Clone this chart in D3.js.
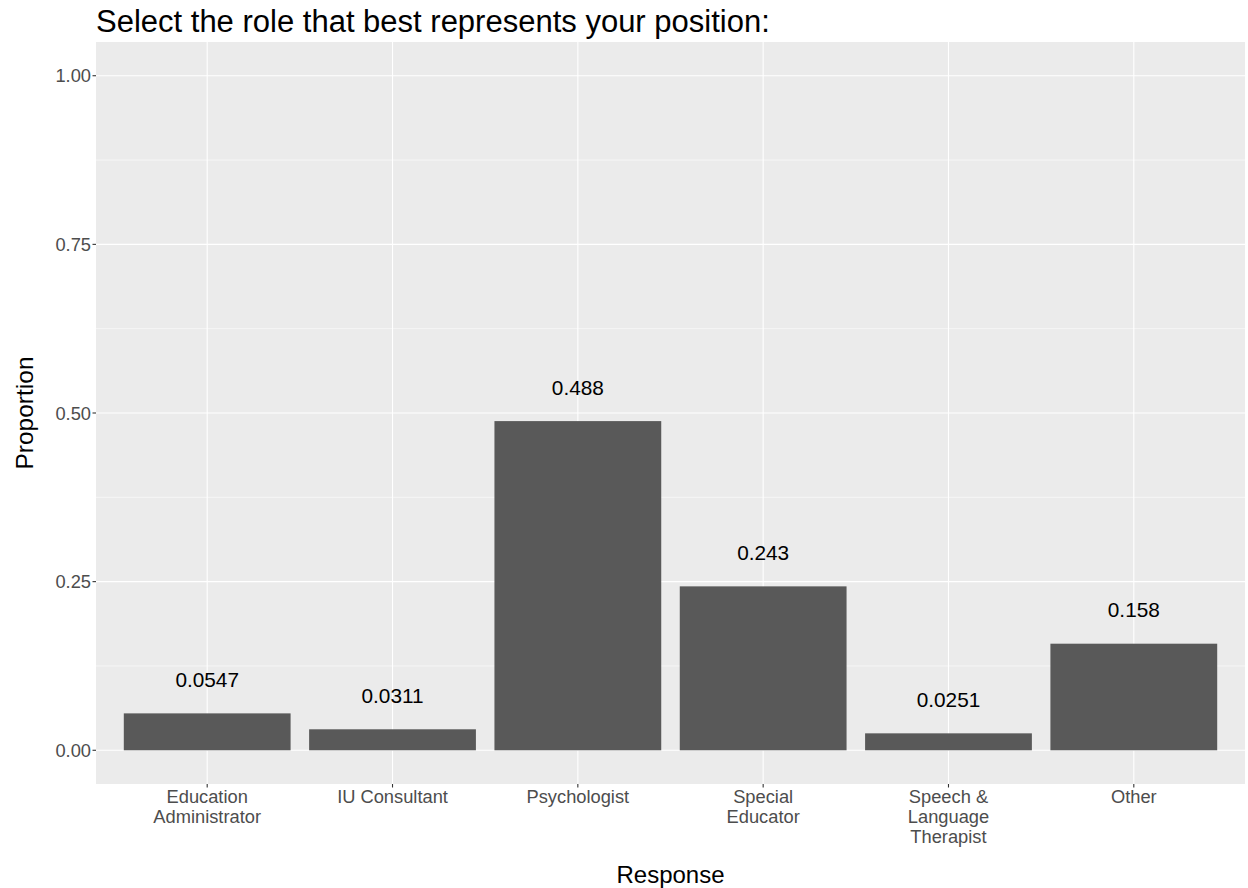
<!DOCTYPE html>
<html><head><meta charset="utf-8">
<script src="https://cdn.jsdelivr.net/npm/d3@7"></script>
<style>
body{margin:0;background:#fff;}
text{font-family:"Liberation Sans",Arial,sans-serif;}
</style></head>
<body>
<svg id="chart" width="1248" height="888"></svg>
<script>
const categories = ["Education\nAdministrator","IU Consultant","Psychologist","Special\nEducator","Speech &\nLanguage\nTherapist","Other"];
const values = [0.0547, 0.0311, 0.488, 0.243, 0.0251, 0.158];
const valueLabels = ["0.0547","0.0311","0.488","0.243","0.0251","0.158"];
const yTicks = [0, 0.25, 0.5, 0.75, 1.0];
const yMinor = [0.125, 0.375, 0.625, 0.875];
const title = "Select the role that best represents your position:";
const xTitle = "Response";
const yTitle = "Proportion";

const svg = d3.select("#chart");
const L = 96, R = 1245, T = 42, B = 784;

const y = d3.scaleLinear().domain([-0.05, 1.05]).range([B, T]);
const step = (R - L) / (categories.length - 1 + 1.2);
const x = d3.scalePoint().domain(d3.range(categories.length)).range([L + 0.6 * step, R - 0.6 * step]);
const cx = i => x(i);

svg.append("rect").attr("x", L).attr("y", T).attr("width", R - L).attr("height", B - T).attr("fill", "#EBEBEB");

const g = svg.append("g");
g.selectAll(".minor").data(yMinor).join("line")
  .attr("x1", L).attr("x2", R).attr("y1", d => y(d)).attr("y2", d => y(d))
  .attr("stroke", "#fff").attr("stroke-width", 0.55);
g.selectAll(".major").data(yTicks).join("line")
  .attr("x1", L).attr("x2", R).attr("y1", d => y(d)).attr("y2", d => y(d))
  .attr("stroke", "#fff").attr("stroke-width", 1.1);
g.selectAll(".vmajor").data(categories).join("line")
  .attr("x1", (d, i) => cx(i)).attr("x2", (d, i) => cx(i)).attr("y1", T).attr("y2", B)
  .attr("stroke", "#fff").attr("stroke-width", 1.1);

// bars
g.selectAll(".bar").data(values).join("rect")
  .attr("x", (d, i) => cx(i) - 0.45 * step).attr("width", 0.9 * step)
  .attr("y", d => y(d)).attr("height", d => y(0) - y(d))
  .attr("fill", "#595959");

// value labels
g.selectAll(".vl").data(values).join("text")
  .attr("x", (d, i) => cx(i)).attr("y", d => y(d + 0.05)).attr("dy", "0.36em")
  .attr("text-anchor", "middle").attr("font-size", 20.8).attr("fill", "#000")
  .text((d, i) => valueLabels[i]);

// y axis ticks
const ya = svg.append("g");
ya.selectAll("line").data(yTicks).join("line")
  .attr("x1", L - 3.5).attr("x2", L).attr("y1", d => y(d)).attr("y2", d => y(d))
  .attr("stroke", "#333").attr("stroke-width", 1.1);
ya.selectAll("text").data(yTicks).join("text")
  .attr("x", L - 5).attr("y", d => y(d)).attr("dy", "0.36em")
  .attr("text-anchor", "end").attr("font-size", 18.3).attr("fill", "#4D4D4D")
  .text(d => d3.format(".2f")(d));

// x axis ticks
const xa = svg.append("g");
xa.selectAll("line").data(categories).join("line")
  .attr("x1", (d, i) => cx(i)).attr("x2", (d, i) => cx(i)).attr("y1", B).attr("y2", B + 3.5)
  .attr("stroke", "#333").attr("stroke-width", 1.1);
xa.selectAll("text").data(categories).join("text")
  .attr("x", (d, i) => cx(i)).attr("y", B + 18.5)
  .attr("text-anchor", "middle").attr("font-size", 18.3).attr("fill", "#4D4D4D")
  .each(function(d, i) {
    const t = d3.select(this);
    d.split("\n").forEach((line, k) => {
      t.append("tspan").attr("x", cx(i)).attr("dy", k === 0 ? 0 : 20).text(line);
    });
  });

// titles
svg.append("text").attr("x", L).attr("y", 32).attr("font-size", 31).attr("fill", "#000").text(title);
svg.append("text").attr("x", (L + R) / 2).attr("y", 883).attr("text-anchor", "middle")
  .attr("font-size", 24).attr("fill", "#000").text(xTitle);
svg.append("text").attr("transform", `translate(33,${(T + B) / 2}) rotate(-90)`).attr("text-anchor", "middle")
  .attr("font-size", 24.5).attr("fill", "#000").text(yTitle);
</script>
</body></html>
